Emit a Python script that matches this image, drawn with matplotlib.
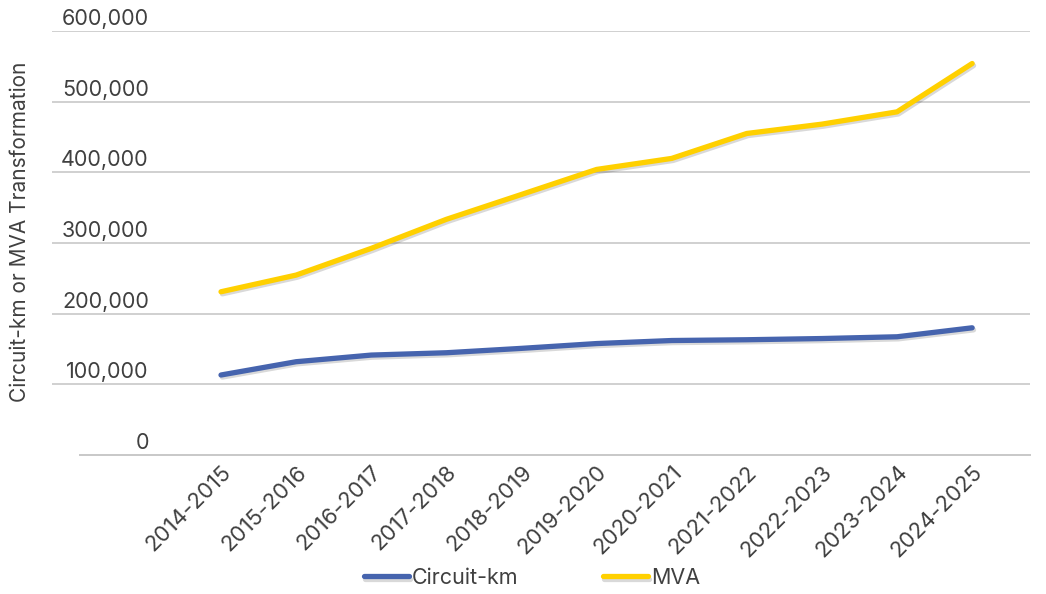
import matplotlib.pyplot as plt
import matplotlib.patheffects as pe
from matplotlib.ticker import FuncFormatter

plt.rcParams['font.family'] = ['Inter', 'DejaVu Sans']

# Datos anuales
periodos = ['2014-2015', '2015-2016', '2016-2017', '2017-2018', '2018-2019',
            '2019-2020', '2020-2021', '2021-2022', '2022-2023', '2023-2024',
            '2024-2025']
circuito_km = [113200, 132000, 141400, 144700, 150900, 157700,
               162000, 163100, 164800, 167300, 180000]
mva = [231000, 254600, 292400, 333500, 368700, 404100,
       419700, 455000, 468200, 485600, 554000]
y_ticks = [0, 100000, 200000, 300000, 400000, 500000, 600000]

gris_texto = '#404040'
sombra = [pe.SimpleLineShadow(offset=(1.0, -1.5), alpha=0.15, shadow_color='black'),
          pe.Normal()]

fig = plt.figure(figsize=(10.46, 5.94), dpi=100)
ax = fig.add_axes([52 / 1046, 1 - 455 / 594, (1030 - 52) / 1046, (455 - 31) / 594])

x = list(range(len(periodos)))
ax.plot(x, circuito_km, color='#4664ae', lw=3.8, solid_capstyle='round',
        label='Circuit-km', path_effects=sombra, zorder=3)
ax.plot(x, mva, color='#ffd000', lw=3.8, solid_capstyle='round',
        label='MVA', path_effects=sombra, zorder=3)

ax.set_xlim(-2.25, 10.77)
ax.set_ylim(0, 600000)

# Líneas de cuadrícula horizontales
for v in y_ticks[1:]:
    ax.axhline(v, color='#c8c8c8', lw=1.2, zorder=1)
ax.plot([(80 - 52) / 978, 1], [0, 0], transform=ax.get_yaxis_transform(),
        color='#c8c8c8', lw=1.4, zorder=1, clip_on=False)

# Etiquetas del eje Y encima de cada línea
fmt = FuncFormatter(lambda v, p: f'{int(v):,}')
for v in y_ticks:
    ax.annotate(fmt(v), xy=(0.099, v), xycoords=ax.get_yaxis_transform(),
                xytext=(0, 1.5), textcoords='offset points',
                ha='right', va='bottom', fontsize=15.5, color=gris_texto)
ax.set_yticks([])

ax.set_xticks(x)
ax.set_xticklabels(periodos, rotation=45, ha='right', rotation_mode='anchor',
                   fontsize=16, color=gris_texto)
ax.tick_params(axis='x', length=0, pad=5)

for s in ax.spines.values():
    s.set_visible(False)

fig.text(20 / 1046, 1 - 232 / 594, 'Circuit-km or MVA Transformation', rotation=90,
         ha='center', va='center', fontsize=15, color=gris_texto)

fig.legend(loc='center', bbox_to_anchor=(532 / 1046, 1 - 578 / 594), ncol=2,
           frameon=False, fontsize=15.5, handlelength=2.1, columnspacing=3.9,
           handletextpad=0.15, labelcolor=gris_texto)

fig.savefig('out.png', dpi=100)
